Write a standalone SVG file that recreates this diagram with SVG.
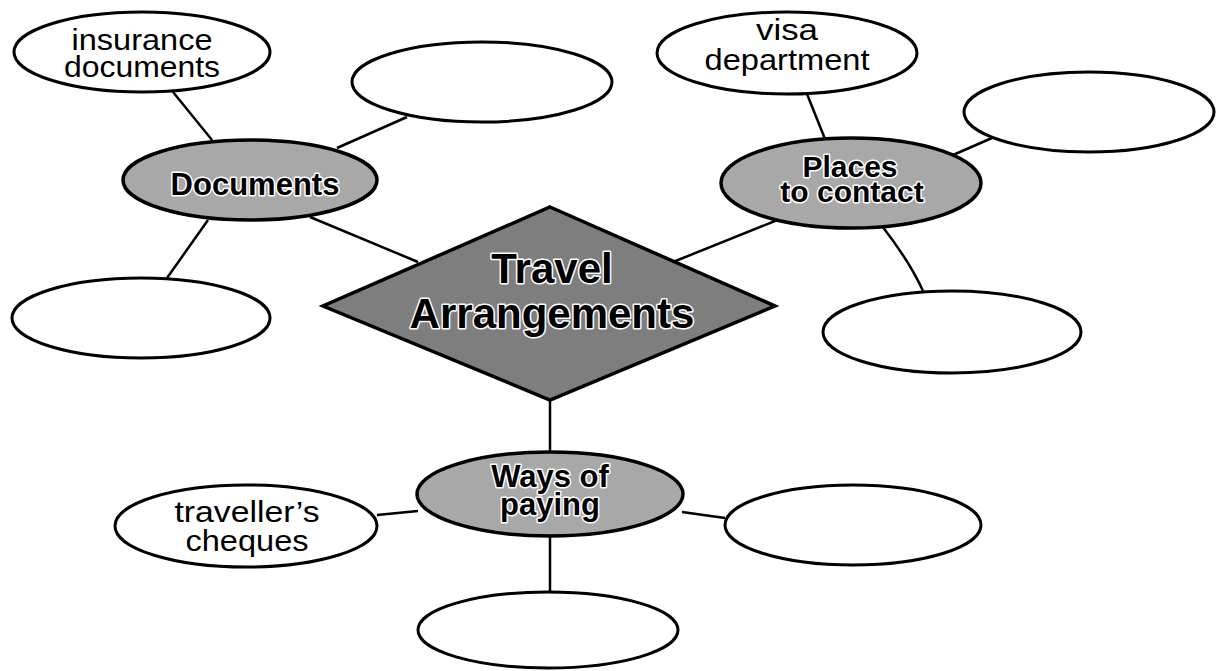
<svg xmlns="http://www.w3.org/2000/svg" width="1217" height="671" viewBox="0 0 1217 671">
<style>
  .blank { fill: #ffffff; stroke: #000; stroke-width: 3; }
  .hub { fill: #a8a8a8; stroke: #000; stroke-width: 3.5; }
  .core { fill: #7e7e7e; stroke: #000; stroke-width: 3.5; }
  .lbl { font-family: "Liberation Sans", Arial, sans-serif; font-size: 30px; fill: #000; text-anchor: middle; }
  .bold { font-family: "Liberation Sans", Arial, sans-serif; font-weight: bold; fill: #000; text-anchor: middle; stroke: #fff; stroke-width: 3; paint-order: stroke; stroke-linejoin: round; }
  .conn line, .conn path { stroke: #000; stroke-width: 2.5; fill: none; }
</style>
<rect width="1217" height="671" fill="#fff"/>
<g id="connectors" class="conn">
  <line x1="173" y1="92" x2="212" y2="140"/>
  <line x1="337" y1="148" x2="407" y2="117"/>
  <line x1="208" y1="220" x2="167" y2="278"/>
  <line x1="310" y1="217" x2="418" y2="262"/>
  <line x1="807" y1="94" x2="825" y2="139"/>
  <line x1="953" y1="155" x2="992" y2="138"/>
  <path d="M882 226 Q910 262 923 291"/>
  <line x1="673" y1="262" x2="780" y2="219"/>
  <line x1="550" y1="400" x2="550" y2="452"/>
  <line x1="377" y1="515" x2="418" y2="511"/>
  <line x1="682" y1="512" x2="725" y2="518"/>
  <line x1="550" y1="536" x2="550" y2="592"/>
</g>
<g id="insurance">
  <ellipse class="blank" cx="142" cy="52" rx="128" ry="40"/>
  <text class="lbl" x="142" y="50" textLength="141" lengthAdjust="spacingAndGlyphs">insurance</text>
  <text class="lbl" x="142" y="77" textLength="156" lengthAdjust="spacingAndGlyphs">documents</text>
</g>
<g id="blank-top-middle">
  <ellipse class="blank" cx="482" cy="82" rx="130" ry="40"/>
</g>
<g id="visa">
  <ellipse class="blank" cx="787" cy="53" rx="130" ry="41"/>
  <text class="lbl" x="787" y="40" textLength="62" lengthAdjust="spacingAndGlyphs">visa</text>
  <text class="lbl" x="787" y="70" textLength="165" lengthAdjust="spacingAndGlyphs">department</text>
</g>
<g id="blank-top-right">
  <ellipse class="blank" cx="1089" cy="112" rx="125" ry="40"/>
</g>
<g id="documents">
  <ellipse class="hub" cx="250" cy="180" rx="127" ry="40"/>
  <text class="bold" x="255" y="195" font-size="31">Documents</text>
</g>
<g id="places">
  <ellipse class="hub" cx="851" cy="183" rx="130" ry="45"/>
  <text class="bold" x="850" y="177" font-size="30">Places</text>
  <text class="bold" x="852" y="202" font-size="30">to contact</text>
</g>
<g id="blank-left">
  <ellipse class="blank" cx="141" cy="318" rx="129" ry="40"/>
</g>
<g id="blank-right">
  <ellipse class="blank" cx="952" cy="332" rx="129" ry="41"/>
</g>
<g id="travel">
  <polygon class="core" points="550,207 775,306 550,400 323,306"/>
  <text class="bold" x="552" y="283" font-size="42">Travel</text>
  <text class="bold" x="552" y="328" font-size="42">Arrangements</text>
</g>
<g id="ways">
  <ellipse class="hub" cx="550" cy="494" rx="133" ry="42"/>
  <text class="bold" x="550" y="487" font-size="31">Ways of</text>
  <text class="bold" x="550" y="515" font-size="31">paying</text>
</g>
<g id="travellers">
  <ellipse class="blank" cx="246" cy="526" rx="131" ry="41"/>
  <text class="lbl" x="247" y="522" textLength="145" lengthAdjust="spacingAndGlyphs">traveller’s</text>
  <text class="lbl" x="247" y="551" textLength="123" lengthAdjust="spacingAndGlyphs">cheques</text>
</g>
<g id="blank-bottom-right">
  <ellipse class="blank" cx="853" cy="525" rx="128" ry="40"/>
</g>
<g id="blank-bottom">
  <ellipse class="blank" cx="548" cy="630" rx="130" ry="38"/>
</g>
</svg>
